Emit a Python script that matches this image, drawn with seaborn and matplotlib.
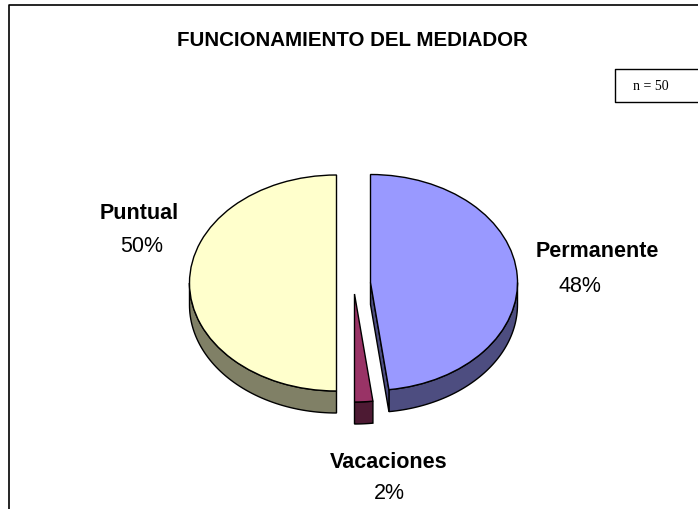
import numpy as np
import matplotlib
matplotlib.use("Agg")
import matplotlib.pyplot as plt
import seaborn as sns

# Data
categories = ["Permanente", "Vacaciones", "Puntual"]
shares = [48, 2, 50]
top_colors = ["#9999FF", "#993366", "#FFFFCC"]
side_colors = ["#4D4D80", "#4D1A33", "#808066"]

sns.set_theme(style="white")
plt.rcParams["font.family"] = ["Liberation Sans", "DejaVu Sans"]

W, H = 698, 510
RX, RY, DEPTH = 147.0, 108.0, 22.0
centers = [(370.5, 283.5), (354.5, 295.0), (336.5, 284.0)]


def px(x, y):
    # pixel position in the picture -> data units of the axes
    return x / RX, (H - y) / RY


fig = plt.figure(figsize=(W / 100, H / 100), dpi=100)
ax = fig.add_axes([0, 0, 1, 1])
wedges, _ = ax.pie(shares, colors=top_colors, startangle=90, counterclock=False,
                   wedgeprops=dict(edgecolor="black", linewidth=1.0))
ax.set_aspect("auto")
ax.set_xlim(0, W / RX)
ax.set_ylim(0, H / RY)
ax.set_frame_on(False)

# Move wedges apart and draw the 3D walls below them
drop = DEPTH / RY
for wedge, c, side in zip(wedges, centers, side_colors):
    cx, cy = px(*c)
    wedge.set_center((cx, cy))
    wedge.set_zorder(3)
    a1 = max(wedge.theta1, 180.0) if wedge.theta2 > 180 else wedge.theta1
    a2 = wedge.theta2
    # keep only the part of the rim that faces the viewer
    lo, hi = np.radians(a1 % 360), np.radians(a2 % 360 if a2 % 360 else 360)
    if hi <= lo:
        hi += 2 * np.pi
    lo_v, hi_v = max(lo, np.pi), min(hi, 2 * np.pi)
    t = np.linspace(lo_v, hi_v, 60)
    rim_x, rim_y = cx + np.cos(t), cy + np.sin(t)
    ax.fill(np.r_[rim_x, rim_x[::-1]], np.r_[rim_y, rim_y[::-1] - drop],
            facecolor=side, edgecolor="black", linewidth=1.0, zorder=2)

# Cut face of the first wedge is visible too
w0 = wedges[0]
cx, cy = w0.center
tc = np.radians(w0.theta1)
ex, ey = cx + np.cos(tc), cy + np.sin(tc)
ax.fill([cx, ex, ex, cx], [cy, ey, ey - drop, cy - drop],
        facecolor=side_colors[0], edgecolor="black", linewidth=1.0, zorder=2)

# Chart border and the n box
bx, by = zip(*[px(9, 512), px(9, 5.5), px(700, 5.5)])
ax.plot(bx, by, color="black", lw=1.2, clip_on=False)
bx, by = zip(*[px(700, 69.5), px(615, 69.5), px(615, 103), px(700, 103)])
ax.plot(bx, by, color="black", lw=1.0)


def label(x, y, s, **kw):
    lx, ly = px(x, y + 1.5)
    ax.text(lx, ly, s, ha="center", va="center", color="black", **kw)


label(352.5, 39, "FUNCIONAMIENTO DEL MEDIADOR", fontsize=14.8, fontweight="bold")
label(651, 85, "n = 50", fontsize=10, family="Liberation Serif")

label_pos = [(597, 250), (389, 461), (139, 212)]
pct_pos = [(579.5, 285), (389, 492), (142, 245)]
for name, share, p, q in zip(categories, shares, label_pos, pct_pos):
    label(p[0], p[1], name, fontsize=15.5, fontweight="bold")
    label(q[0], q[1], f"{share}%", fontsize=15.5)

fig.savefig("out.png", dpi=100)
